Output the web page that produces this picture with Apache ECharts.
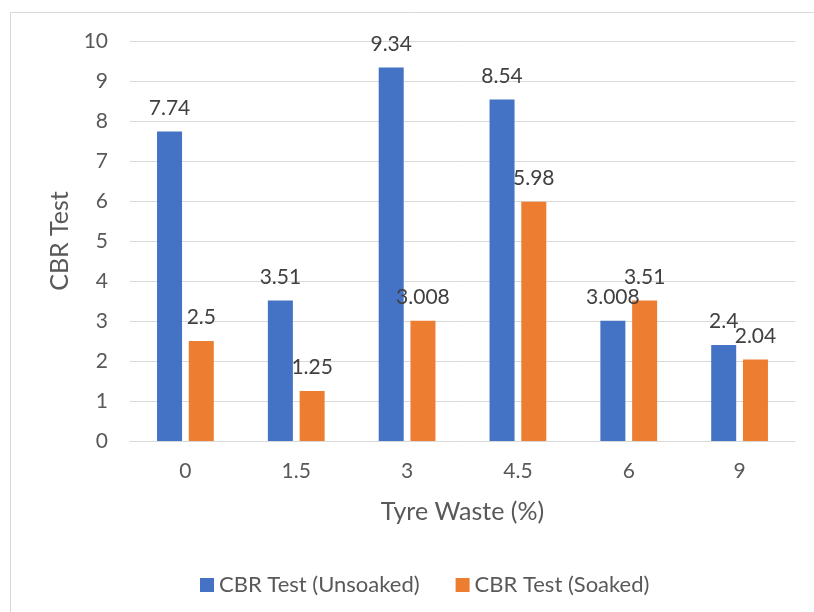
<!DOCTYPE html>
<html>
<head>
<meta charset="utf-8">
<style>
  html, body { margin: 0; padding: 0; background: #ffffff; }
  #chart { width: 814px; height: 612px; }
</style>
<script src="https://cdn.jsdelivr.net/npm/echarts@6/dist/echarts.min.js"></script>
</head>
<body>
<div id="chart"></div>
<script>
const categories = ['0', '1.5', '3', '4.5', '6', '9'];
const unsoaked = [7.74, 3.51, 9.34, 8.54, 3.008, 2.4];
const soaked = [2.5, 1.25, 3.008, 5.98, 3.51, 2.04];
const seriesNames = ['CBR Test (Unsoaked)', 'CBR Test (Soaked)'];
const xAxisTitle = 'Tyre Waste (%)';
const yAxisTitle = 'CBR Test';

const FONT = 'Lato';
const chart = echarts.init(document.getElementById('chart'));

const labelStyle = {
  show: true,
  position: 'top',
  distance: 13,
  color: '#404040',
  fontSize: 21,
  fontFamily: FONT
};

chart.setOption({
  backgroundColor: '#ffffff',
  animation: false,
  textStyle: { fontFamily: FONT },
  graphic: [{
    type: 'rect',
    shape: { x: 10.5, y: 12.5, width: 900, height: 700 },
    style: { fill: 'none', stroke: '#d9d9d9', lineWidth: 1 },
    silent: true,
    z: -10
  }],
  grid: { left: 130, right: 19, top: 41, bottom: 171, containLabel: false },
  legend: {
    top: 569,
    left: 195,
    itemWidth: 14,
    itemHeight: 14,
    itemGap: 36,
    icon: 'rect',
    textStyle: { color: '#595959', fontSize: 22, fontFamily: FONT },
    data: seriesNames
  },
  xAxis: {
    type: 'category',
    data: categories,
    name: xAxisTitle,
    nameLocation: 'middle',
    nameGap: 58,
    nameTextStyle: { color: '#595959', fontSize: 25, fontFamily: FONT },
    axisLine: { lineStyle: { color: '#d9d9d9', width: 1 } },
    axisTick: { show: false },
    axisLabel: { color: '#595959', fontSize: 21, margin: 20, fontFamily: FONT }
  },
  yAxis: {
    type: 'value',
    min: 0,
    max: 10,
    interval: 1,
    name: yAxisTitle,
    nameLocation: 'middle',
    nameGap: 57,
    nameTextStyle: { color: '#595959', fontSize: 25, fontFamily: FONT },
    axisLine: { show: false },
    axisTick: { show: false },
    axisLabel: { color: '#595959', fontSize: 21, margin: 22, fontFamily: FONT },
    splitLine: { lineStyle: { color: '#d9d9d9', width: 1 } }
  },
  series: [
    {
      name: seriesNames[0],
      type: 'bar',
      data: unsoaked,
      barWidth: 25,
      barGap: '27%',
      itemStyle: { color: '#4472C4' },
      label: labelStyle
    },
    {
      name: seriesNames[1],
      type: 'bar',
      data: soaked,
      barWidth: 25,
      barGap: '27%',
      itemStyle: { color: '#ED7D31' },
      label: labelStyle
    }
  ]
});
</script>
</body>
</html>
